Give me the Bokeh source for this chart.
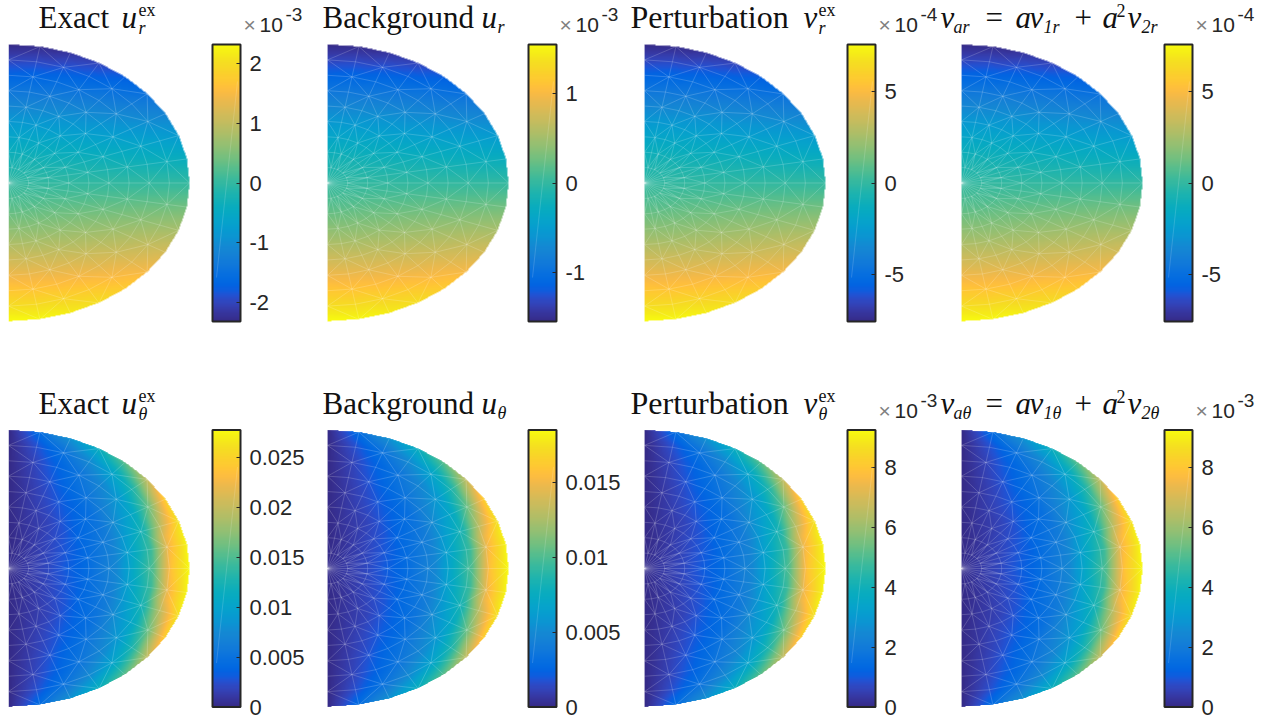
import numpy as np
from bokeh.embed import file_html
from bokeh.resources import INLINE
from bokeh.layouts import row, column
from bokeh.models import ColorBar, FixedTicker, LinearColorMapper, Range1d
from bokeh.core.properties import value
from bokeh.plotting import figure

# ---- data ----
THETA_DEG = [0, 15, 30, 45, 60, 75, 90]
R_SHAPE_RADII = [0, .2, .4, .6, .8, 1]
# radial component: fraction of the colour limit, upper half (sign flips below the axis)
R_SHAPE = [[0, 0, 0, 0, 0, 0, 0],
           [0, .035, .07, .095, .115, .13, .135],
           [0, .08, .16, .225, .275, .305, .32],
           [0, .135, .265, .375, .455, .51, .53],
           [0, .195, .38, .535, .655, .73, .76],
           [0, .26, .5, .71, .87, .97, 1]]
T_SHAPE_RADII = [0, .2, .4, .6, .8, .9, 1]
# angular component: fraction of the colour limit, mirror symmetric
T_SHAPE = [[.01, .01, .01, .01, .01, .01, .01],
           [.07, .065, .055, .045, .03, .015, 0],
           [.14, .13, .115, .09, .06, .035, 0],
           [.27, .25, .21, .165, .12, .06, 0],
           [.55, .50, .40, .30, .2, .1, 0],
           [.86, .80, .60, .42, .28, .14, 0],
           [1, .98, .90, .63, .42, .24, 0]]

LIMITS_TOP = [2.31, 1.54, 7.6, 7.6]
LIMITS_BOTTOM = [.0277, .01847, 9.27, 9.27]
TICKS_TOP = [[-2, -1, 0, 1, 2], [-1, 0, 1], [-5, 0, 5], [-5, 0, 5]]
TICKS_BOTTOM = [[0, .005, .01, .015, .02, .025], [0, .005, .01, .015], [0, 2, 4, 6, 8], [0, 2, 4, 6, 8]]
EXPONENTS_TOP = ["-3", "-3", "-4", "-4"]
EXPONENTS_BOTTOM = [None, None, "-3", "-3"]

PARULA = [(.2081,.1663,.5292),(.2116,.1898,.5777),(.2123,.2138,.6270),(.2081,.2386,.6771),
(.1959,.2645,.7279),(.1707,.2919,.7792),(.1253,.3242,.8303),(.0591,.3598,.8683),(.0117,.3875,.8820),
(.0060,.4086,.8828),(.0165,.4266,.8786),(.0329,.4430,.8720),(.0498,.4586,.8641),(.0629,.4737,.8554),
(.0723,.4887,.8467),(.0779,.5040,.8384),(.0793,.5200,.8312),(.0749,.5375,.8263),(.0641,.5570,.8240),
(.0488,.5772,.8228),(.0343,.5966,.8199),(.0265,.6137,.8135),(.0239,.6287,.8038),(.0231,.6418,.7913),
(.0228,.6535,.7768),(.0267,.6642,.7607),(.0384,.6743,.7436),(.0590,.6838,.7254),(.0843,.6928,.7062),
(.1133,.7015,.6859),(.1453,.7098,.6646),(.1801,.7177,.6424),(.2178,.7250,.6193),(.2586,.7317,.5954),
(.3022,.7376,.5712),(.3482,.7424,.5473),(.3953,.7459,.5244),(.4420,.7481,.5033),(.4871,.7491,.4840),
(.5300,.7491,.4661),(.5709,.7485,.4494),(.6099,.7473,.4337),(.6473,.7456,.4188),(.6834,.7435,.4044),
(.7184,.7411,.3905),(.7525,.7384,.3768),(.7858,.7356,.3633),(.8185,.7327,.3498),(.8507,.7299,.3360),
(.8824,.7274,.3217),(.9139,.7258,.3063),(.9450,.7261,.2886),(.9739,.7314,.2666),(.9938,.7455,.2403),
(.9990,.7653,.2164),(.9955,.7861,.1967),(.9880,.8066,.1794),(.9789,.8271,.1633),(.9697,.8481,.1475),
(.9626,.8705,.1309),(.9589,.8949,.1132),(.9598,.9218,.0948),(.9661,.9514,.0755),(.9763,.9831,.0538)]

# ---- layout in page pixels ----
FIG_LEFT = [8, 320, 628, 939]
FIG_RIGHT = [320, 628, 939, 1260]
MESH_LEFT = [8, 327, 644, 961]
BAR_LEFT = [212, 528, 847, 1164]
MESH_W, MESH_H = 181.0, 138.5
ROWS = [dict(top=0, bottom=375, cy=182.5, title_base=27),
        dict(top=375, bottom=718, cy=568, title_base=413)]
SERIF, SANS = "Liberation Serif", "Liberation Sans"
INK = "#262626"
BASELINE_SHIFT = 0.37  # em: bokeh's svg text sits this far below the asked baseline

xs = np.linspace(0, 1, 64)
rgb = np.array(PARULA)
ramp = np.linspace(0, 1, 256)
palette = ["#%02x%02x%02x" % tuple(int(round(255 * np.interp(t, xs, rgb[:, k]))) for k in range(3)) for t in ramp]


def sample(table, radii, rho, theta):
    """bilinear look-up in the (radius, angle) table"""
    tb = np.array(table, float)
    ri = np.clip(np.searchsorted(radii, rho, side="right") - 1, 0, len(radii) - 2)
    ai = np.clip(np.searchsorted(THETA_DEG, theta, side="right") - 1, 0, len(THETA_DEG) - 2)
    r0, r1 = np.array(radii)[ri], np.array(radii)[ri + 1]
    a0, a1 = np.array(THETA_DEG)[ai], np.array(THETA_DEG)[ai + 1]
    fr = np.clip((rho - r0) / (r1 - r0), 0, 1)
    fa = np.clip((theta - a0) / (a1 - a0), 0, 1)
    return ((1 - fr) * (1 - fa) * tb[ri, ai] + fr * (1 - fa) * tb[ri + 1, ai]
            + (1 - fr) * fa * tb[ri, ai + 1] + fr * fa * tb[ri + 1, ai + 1])


def shaded(kind, limit):
    nx, ny = 362, 554
    gx = (np.arange(nx) + .5) / nx
    gy = (np.arange(ny) + .5) / ny * 2 - 1
    X, Y = np.meshgrid(gx, gy)
    rho = np.hypot(X, Y)
    ang = np.degrees(np.arctan2(np.abs(Y), X))
    chord = np.cos(np.radians(5)) / np.cos(np.radians((ang % 10) - 5))
    q = rho / chord
    if kind == "r":
        img = -np.sign(Y) * sample(R_SHAPE, R_SHAPE_RADII, q, ang) * limit
    else:
        img = sample(T_SHAPE, T_SHAPE_RADII, q, ang) * limit
    img[q > 1] = np.nan
    return img


def mesh_lines():
    n_r, n_a = 9, 18
    def node(i, j):
        a = np.radians(-90 + 10 * j)
        return i / n_r * np.cos(a), i / n_r * np.sin(a)
    lx, ly = [], []
    def edge(p, q):
        lx.append([p[0], q[0]])
        ly.append([p[1], q[1]])
    for i in range(1, n_r + 1):
        for j in range(n_a + 1):
            edge(node(i - 1, j), node(i, j))
            if j < n_a:
                edge(node(i, j), node(i, j + 1))
                if i > 1:
                    if (i + j) % 2:
                        edge(node(i - 1, j), node(i, j + 1))
                    else:
                        edge(node(i, j), node(i - 1, j + 1))
    return lx, ly


SUFFIX_TOP = "r"
SUFFIX_BOTTOM = "θ"


def titles(col, s):
    # (text, page x, offset above the baseline, px size, style)
    big, mid = 31, 18
    if col == 0:
        return [("Exact", 38, 0, 31, "normal"), ("u", 121, 0, big, "italic"),
                ("ex", 138, 12, mid, "normal"), (s, 138, -6, mid, "italic")]
    if col == 1:
        return [("Background", 322, 0, 31, "normal"), ("u", 481, 0, big, "italic"),
                (s, 497, -5, mid, "italic")]
    if col == 2:
        return [("Perturbation", 630, 0, 32, "normal"), ("v", 803, 0, big, "italic"),
                ("ex", 818, 12, mid, "normal"), (s, 818, -6, mid, "italic")]
    return [("v", 940, 0, big, "italic"), ("a" + s, 953, -5, mid, "italic"),
            ("=", 985, 0, 31, "normal"), ("a", 1015, 0, big, "italic"), ("v", 1029, 0, big, "italic"),
            ("1" + s, 1043, -5, mid, "italic"), ("+", 1074, 0, 31, "normal"),
            ("a", 1102, 0, big, "italic"), ("2", 1116, 11, mid, "normal"), ("v", 1127, 0, big, "italic"),
            ("2" + s, 1141, -5, mid, "italic")]


def panel(col, rw, kind, limit, ticks, exponent, suffix):
    L, R = FIG_LEFT[col], FIG_RIGHT[col]
    W, H = R - L, rw["bottom"] - rw["top"]
    def dx(px):
        return (px - MESH_LEFT[col]) / MESH_W
    def dy(py):
        return (rw["cy"] - py) / MESH_H
    p = figure(width=W, height=H, output_backend="svg", toolbar_location=None,
               x_range=Range1d(dx(L), dx(R)), y_range=Range1d(dy(rw["bottom"]), dy(rw["top"])),
               min_border=0, outline_line_color=None, x_axis_type=None, y_axis_type=None,
               background_fill_color=None, border_fill_color=None)
    p.grid.visible = False
    low = -limit if kind == "r" else 0
    mapper = LinearColorMapper(palette=palette, low=low, high=limit, nan_color="rgba(0,0,0,0)")
    p.image(image=[shaded(kind, limit)], x=0, y=-1, dw=1, dh=2, color_mapper=mapper)
    lx, ly = mesh_lines()
    p.multi_line(lx, ly, line_color="white", line_alpha=.26, line_width=.7)

    bar_bottom = rw["cy"] + MESH_H
    labels = {}
    for t in ticks:
        labels[t] = ("%g" % t)
    bar = ColorBar(color_mapper=mapper, location=(BAR_LEFT[col] - L, rw["bottom"] - bar_bottom),
                   width=28, height=277, padding=0, margin=0,
                   ticker=FixedTicker(ticks=ticks), major_label_overrides=labels,
                   major_label_text_font=SANS, major_label_text_font_size="22px",
                   major_label_text_color=INK, label_standoff=9,
                   major_tick_in=4, major_tick_out=0, major_tick_line_color=INK, major_tick_line_width=1,
                   minor_tick_line_color=None, bar_line_color=INK, bar_line_width=2,
                   background_fill_color=None, border_line_color=None)
    p.add_layout(bar, "center")
    p.segment(x0=[dx(BAR_LEFT[col] + 4)], y0=[dy(bar_bottom - 44)], x1=[dx(BAR_LEFT[col] + 25)], y1=[dy(bar_bottom - 240)],
              line_color="white", line_alpha=.22, line_width=.7, level="overlay")

    def put(txt, px, py, size, font, style, color):
        p.text(x=[dx(px)], y=[dy(py - BASELINE_SHIFT * size)], text=[txt], text_font=value(font),
               text_font_size="%dpx" % size, text_font_style=style, text_color=color,
               text_baseline="alphabetic", text_align="left")

    for txt, px, up, size, style in titles(col, suffix):
        put(txt, px, rw["title_base"] + 1 - up, size, SERIF, style, "#111111")
    if exponent:
        b = BAR_LEFT[col]
        base = rw["title_base"] + 5
        put("×", b + 31, base, 21, SANS, "normal", "#808080")
        put("10", b + 47, base, 21, SANS, "normal", INK)
        put(exponent, b + 73, base - 11, 19, SANS, "normal", INK)
    return p


top = [panel(c, ROWS[0], "r", LIMITS_TOP[c], TICKS_TOP[c], EXPONENTS_TOP[c], SUFFIX_TOP) for c in range(4)]
bottom = [panel(c, ROWS[1], "t", LIMITS_BOTTOM[c], TICKS_BOTTOM[c], EXPONENTS_BOTTOM[c], SUFFIX_BOTTOM) for c in range(4)]
page = column(row(*top, spacing=0), row(*bottom, spacing=0), spacing=0, margin=(0, 0, 0, 8))
open("out.html", "w").write(file_html(page, INLINE))
